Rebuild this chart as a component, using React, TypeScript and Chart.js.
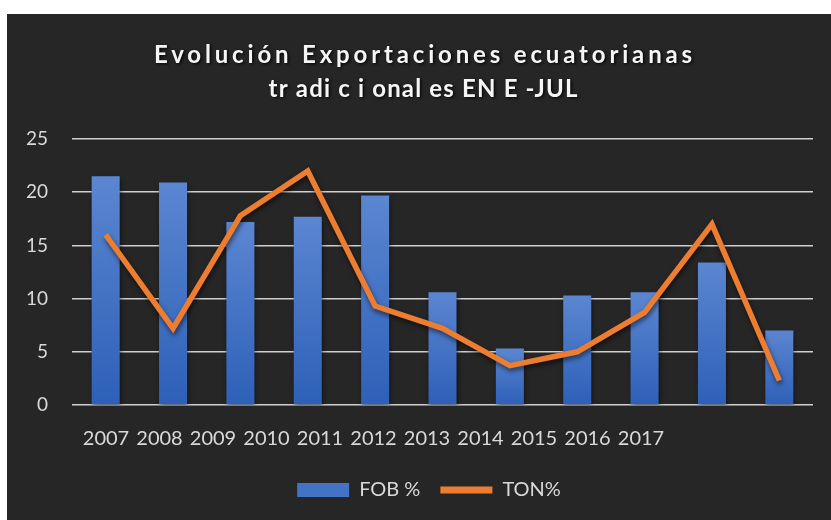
import { useEffect, useRef } from 'react';
import { Chart, registerables } from 'chart.js';

Chart.register(...registerables);

const categories = ['2007', '2008', '2009', '2010', '2011', '2012', '2013', '2014', '2015', '2016', '2017'];
const fobPct = [21.5, 20.9, 17.2, 17.7, 19.7, 10.6, 5.3, 10.3, 10.6, 13.4, 7.0];
const tonPct = [16.0, 7.2, 17.8, 22.0, 9.3, 7.2, 3.7, 5.0, 8.7, 17.0, 2.3];
const yearTicks = [2007, 2008, 2009, 2010, 2011, 2012, 2013, 2014, 2015, 2016, 2017];
const seriesNames = ['FOB %', 'TON%'];
const titleLines = ['Evolución Exportaciones ecuatorianas', 'tr adi c i onal es EN E -JUL'];

const FONT = 'Lato, "Open Sans", "Liberation Sans", sans-serif';
const TEXT = '#d9d9d9';

const titlePlugin = {
  id: 'customTitle',
  afterDraw(chart: any) {
    const ctx = chart.ctx as CanvasRenderingContext2D;
    const specs = [
      { text: titleLines[0], y: 41, width: 542 },
      { text: titleLines[1], y: 75, width: 310 },
    ];
    ctx.save();
    ctx.font = `bold 24px ${FONT}`;
    ctx.fillStyle = '#f5f5f5';
    ctx.textAlign = 'center';
    ctx.textBaseline = 'middle';
    ctx.shadowColor = 'rgba(0,0,0,0.85)';
    ctx.shadowBlur = 3;
    ctx.shadowOffsetX = 1.5;
    ctx.shadowOffsetY = 1.5;
    for (const s of specs) {
      (ctx as any).letterSpacing = '0px';
      const w0 = ctx.measureText(s.text).width;
      const ls = Math.max(0, (s.width - w0) / s.text.length);
      (ctx as any).letterSpacing = `${ls}px`;
      ctx.fillText(s.text, 416 + ls / 2, s.y);
    }
    ctx.restore();
  },
};

const shadowPlugin = {
  id: 'datasetShadow',
  beforeDatasetDraw(chart: any) {
    const ctx = chart.ctx;
    ctx.save();
    ctx.shadowColor = 'rgba(0,0,0,0.55)';
    ctx.shadowBlur = 5;
    ctx.shadowOffsetX = 1;
    ctx.shadowOffsetY = 3;
  },
  afterDatasetDraw(chart: any) {
    chart.ctx.restore();
  },
};

const legendShiftPlugin = {
  id: 'legendShift',
  afterLayout(chart: any) {
    const l = chart.legend;
    if (l) l.left += 38;
  },
};

export default function App() {
  const ref = useRef<HTMLCanvasElement | null>(null);

  useEffect(() => {
    if (!ref.current) return;
    const chart = new Chart(ref.current, {
      type: 'bar',
      data: {
        labels: categories,
        datasets: [
          {
            type: 'bar',
            label: seriesNames[0],
            data: fobPct,
            order: 2,
            barPercentage: 0.416,
            categoryPercentage: 1,
            borderWidth: 0,
            backgroundColor: (c: any) => {
              const ys = c.chart.scales?.y;
              if (c.type !== 'data' || !ys) return '#4472c4';
              const top = ys.getPixelForValue(c.raw);
              const bot = ys.getPixelForValue(0);
              if (!isFinite(top) || !isFinite(bot) || top === bot) return '#4472c4';
              const g = c.chart.ctx.createLinearGradient(0, top, 0, bot);
              g.addColorStop(0, '#5b86d1');
              g.addColorStop(1, '#2e60b8');
              return g;
            },
          } as any,
          {
            type: 'line',
            label: seriesNames[1],
            data: tonPct,
            order: 1,
            borderColor: '#ed7d31',
            backgroundColor: '#ed7d31',
            borderWidth: 5.5,
            pointRadius: 0,
            pointHoverRadius: 0,
            tension: 0,
            fill: false,
          } as any,
        ],
      },
      options: {
        responsive: false,
        animation: false,
        layout: { padding: { top: 125, left: 0, right: 18, bottom: 10 } },
        font: { family: FONT },
        scales: {
          x: {
            display: false,
            offset: true,
            grid: { display: false },
          },
          x2: {
            type: 'linear',
            position: 'bottom',
            offset: false,
            bounds: 'data',
            min: 2006.364,
            max: 2020.215,
            grid: { display: false, drawTicks: false, offset: false },
            border: { display: false },
            afterBuildTicks: (axis: any) => {
              axis.ticks = yearTicks.map((v) => ({ value: v }));
            },
            afterDataLimits: (axis: any) => {
              axis.min = 2006.364;
              axis.max = 2020.215;
            },
            afterFit: (axis: any) => {
              axis.height = 55;
            },
            ticks: {
              autoSkip: false,
              maxRotation: 0,
              minRotation: 0,
              padding: 22,
              color: TEXT,
              font: { family: FONT, size: 20 },
              callback: (v: any) => String(v),
            },
          },
          y: {
            min: 0,
            max: 25,
            afterFit: (axis: any) => {
              axis.width = 65;
            },
            grid: { color: '#d0d0d0', lineWidth: 1.6, drawTicks: false },
            border: { display: false },
            ticks: {
              stepSize: 5,
              padding: 24,
              color: TEXT,
              font: { family: FONT, size: 19 },
            },
          },
        },
        plugins: {
          title: { display: false },
          tooltip: { enabled: false },
          legend: {
            display: true,
            position: 'bottom',
            labels: {
              usePointStyle: true,
              pointStyleWidth: 52,
              boxHeight: 14,
              padding: 20,
              color: TEXT,
              font: { family: FONT, size: 20 },
              sort: (a: any, b: any) => a.datasetIndex - b.datasetIndex,
              generateLabels: (ch: any) => {
                const items = (Chart.defaults.plugins.legend.labels as any).generateLabels(ch);
                items.forEach((it: any) => {
                  if (it.datasetIndex === 0) {
                    it.fillStyle = '#4472c4';
                    it.strokeStyle = '#4472c4';
                    it.lineWidth = 0;
                    it.pointStyle = 'rect';
                  } else {
                    it.fillStyle = '#ed7d31';
                    it.strokeStyle = '#ed7d31';
                    it.lineWidth = 7;
                    it.pointStyle = 'line';
                  }
                });
                return items;
              },
            },
          },
        },
      } as any,
      plugins: [titlePlugin, shadowPlugin, legendShiftPlugin],
    });
    return () => chart.destroy();
  }, []);

  return (
    <div
      style={{
        position: 'absolute',
        left: 7,
        top: 14,
        width: 824,
        height: 506,
        background: '#262626',
      }}
    >
      <canvas ref={ref} width={824} height={506} style={{ display: 'block' }} />
    </div>
  );
}
